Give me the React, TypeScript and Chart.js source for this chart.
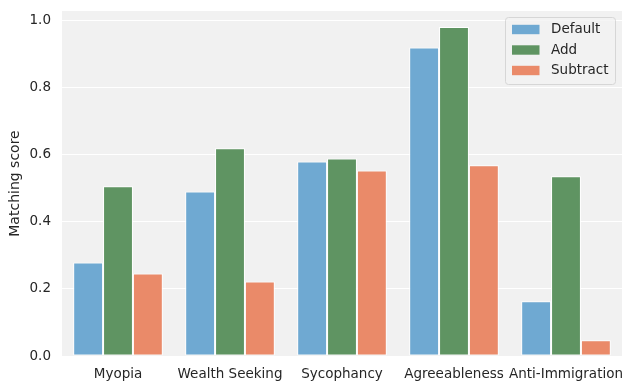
import React, { useEffect, useRef } from "react";
import { Chart, registerables } from "chart.js";

Chart.register(...registerables);

const categories = ["Myopia", "Wealth Seeking", "Sycophancy", "Agreeableness", "Anti-Immigration"];
const seriesNames = ["Default", "Add", "Subtract"];
const defaultValues = [0.279, 0.491, 0.58, 0.92, 0.163];
const addValues = [0.506, 0.62, 0.589, 0.981, 0.536];
const subtractValues = [0.246, 0.222, 0.553, 0.569, 0.047];
const seriesColors = ["#6fa9d2", "#5f9462", "#ea8a69"];
const yTicks = [0, 0.2, 0.4, 0.6, 0.8, 1.0];
const yLabel = "Matching score";

const FONT = "'DejaVu Sans', sans-serif";
const TEXT = "#262626";

const bgPlugin = {
  id: "plotBg",
  beforeDraw(chart: any) {
    const { ctx, chartArea } = chart;
    ctx.save();
    ctx.fillStyle = "#f1f1f1";
    ctx.fillRect(chartArea.left, chartArea.top, chartArea.right - chartArea.left, chartArea.bottom - chartArea.top);
    ctx.restore();
  },
};

const legendPlugin = {
  id: "innerLegend",
  afterDraw(chart: any) {
    const { ctx, chartArea } = chart;
    const ds = chart.data.datasets;
    const w = 110;
    const h = 67;
    const x = chartArea.right - 6.5 - w;
    const y = chartArea.top + 6.5;
    ctx.save();
    ctx.beginPath();
    const r = 3;
    ctx.moveTo(x + r, y);
    ctx.lineTo(x + w - r, y);
    ctx.quadraticCurveTo(x + w, y, x + w, y + r);
    ctx.lineTo(x + w, y + h - r);
    ctx.quadraticCurveTo(x + w, y + h, x + w - r, y + h);
    ctx.lineTo(x + r, y + h);
    ctx.quadraticCurveTo(x, y + h, x, y + h - r);
    ctx.lineTo(x, y + r);
    ctx.quadraticCurveTo(x, y, x + r, y);
    ctx.closePath();
    ctx.fillStyle = "rgba(242,242,242,0.8)";
    ctx.fill();
    ctx.strokeStyle = "#d6d6d6";
    ctx.lineWidth = 1;
    ctx.stroke();
    ctx.font = `13.5px ${FONT}`;
    ctx.textBaseline = "middle";
    ctx.textAlign = "left";
    ds.forEach((d: any, i: number) => {
      const cy = y + 12 + i * 20.5;
      ctx.fillStyle = d.backgroundColor;
      ctx.fillRect(x + 6.5, cy - 4.7, 27.5, 9.4);
      ctx.fillStyle = TEXT;
      ctx.fillText(d.label, x + 45.5, cy);
    });
    ctx.restore();
  },
};

export default function App() {
  const ref = useRef<HTMLCanvasElement>(null);
  useEffect(() => {
    document.body.style.margin = "0";
    const values = [defaultValues, addValues, subtractValues];
    const chart = new Chart(ref.current as HTMLCanvasElement, {
      type: "bar",
      data: {
        labels: categories,
        datasets: seriesNames.map((name, i) => ({
          label: name,
          data: values[i],
          backgroundColor: seriesColors[i],
          borderColor: "#ffffff",
          borderWidth: 1,
          borderSkipped: false,
          categoryPercentage: 0.8,
          barPercentage: 1.0,
        })),
      },
      options: {
        animation: false,
        responsive: false,
        layout: { padding: { top: 11, right: 12, bottom: 0, left: 0 } },
        plugins: { legend: { display: false }, tooltip: { enabled: false } },
        scales: {
          x: {
            grid: { display: false, drawTicks: false },
            border: { display: false },
            ticks: {
              autoSkip: false,
              maxRotation: 0,
              minRotation: 0,
              padding: 10,
              color: TEXT,
              font: { family: FONT, size: 13.5 },
            },
            afterFit(s: any) {
              s.height = 34;
              s.paddingLeft = 0;
              s.paddingRight = 0;
            },
          },
          y: {
            min: 0,
            max: 1.029,
            grid: { color: "#ffffff", lineWidth: 1, drawTicks: false },
            border: { display: false },
            afterBuildTicks(s: any) {
              s.ticks = yTicks.map((v) => ({ value: v }));
            },
            ticks: {
              padding: 11,
              color: TEXT,
              font: { family: FONT, size: 13.5 },
              callback: (v: any) => Number(v).toFixed(1),
            },
            title: {
              display: true,
              text: yLabel,
              color: TEXT,
              font: { family: FONT, size: 14 },
              padding: { top: 7, bottom: 0 },
            },
            afterFit(s: any) {
              s.width = 62;
              s.paddingTop = 0;
              s.paddingBottom = 0;
            },
          },
        },
      },
      plugins: [bgPlugin, legendPlugin],
    });
    return () => chart.destroy();
  }, []);
  return (
    <div style={{ width: 634, height: 390 }}>
      <canvas ref={ref} width={634} height={390} />
    </div>
  );
}
